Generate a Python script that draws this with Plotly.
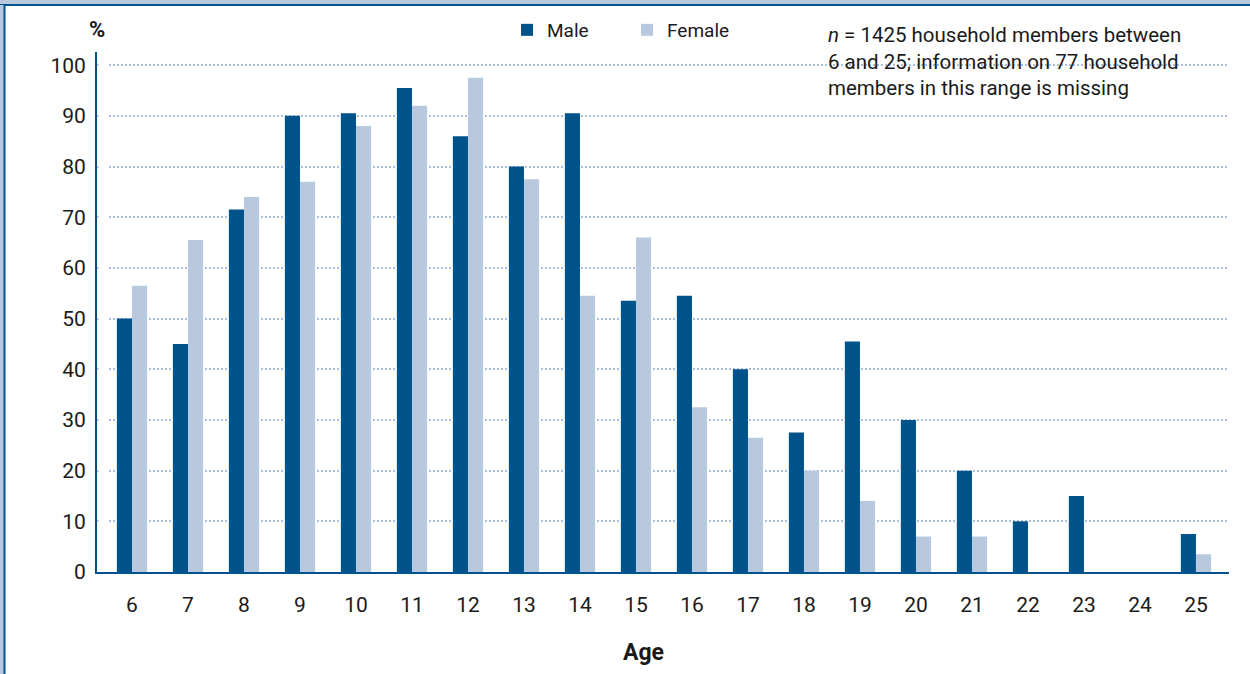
import plotly.graph_objects as go

ages = ["6", "7", "8", "9", "10", "11", "12", "13", "14", "15", "16", "17", "18", "19", "20", "21", "22", "23", "24", "25"]
male = [50, 45, 71.5, 90, 90.5, 95.5, 86, 80, 90.5, 53.5, 54.5, 40, 27.5, 45.5, 30, 20, 10, 15, 0, 7.5]
female = [56.5, 65.5, 74, 77, 88, 92, 97.5, 77.5, 54.5, 66, 32.5, 26.5, 20, 14, 7, 7, 0, 0, 0, 3.5]
y_ticks = [0, 10, 20, 30, 40, 50, 60, 70, 80, 90, 100]

DARK = "#00528a"
LIGHT = "#b8c9df"
GRID = "#a9bfdb"
FONT = "Roboto, Liberation Sans, sans-serif"

W, H = 1250, 674
L, R, T, B = 97, 21, 52, 102
PW, PH = W - L - R, H - T - B

def px(x):
    return (x - L) / PW

def py(y):
    return (H - B - y) / PH

fig = go.Figure()
fig.add_trace(go.Bar(x=ages, y=male, name="Male", marker=dict(color=DARK, line_width=0)))
fig.add_trace(go.Bar(x=ages, y=female, name="Female", marker=dict(color=LIGHT, line_width=0)))

fig.update_layout(
    width=W, height=H,
    margin=dict(l=L, r=R, t=T, b=B, autoexpand=False),
    paper_bgcolor="white", plot_bgcolor="white",
    barmode="group", bargap=0.46, bargroupgap=0,
    font=dict(family=FONT, color="#1a1a1a", size=19),
    showlegend=True,
    legend=dict(orientation="h", x=px(507), y=py(11), xanchor="left", yanchor="top",
                xref="paper", yref="paper",
                font=dict(size=19, family=FONT), entrywidth=75, entrywidthmode="pixels",
                itemwidth=30, bgcolor="rgba(0,0,0,0)", traceorder="normal"),
    xaxis=dict(type="category", range=[-0.625, 19.59], showgrid=False, showline=True,
               linecolor=DARK, linewidth=2, ticks="", tickfont=dict(size=21, family=FONT),
               ticklabelstandoff=13, title=dict(text="")),
    yaxis=dict(range=[0, 102.6], tickvals=y_ticks, showgrid=True, gridcolor=GRID,
               griddash="2px,2px", gridwidth=2, showline=True, linecolor=DARK, linewidth=2,
               ticks="", tickfont=dict(size=21, family=FONT), ticklabelstandoff=5,
               zeroline=False),
    shapes=[
        dict(type="rect", xref="paper", yref="paper", x0=px(98.5), x1=px(107), y0=py(569), y1=py(60),
             fillcolor="white", line_width=0, layer="above"),
        dict(type="rect", xref="paper", yref="paper", x0=px(0), x1=px(W), y0=py(5), y1=py(0),
             fillcolor=LIGHT, line_width=0, layer="above"),
        dict(type="line", xref="paper", yref="paper", x0=px(0), x1=px(W), y0=py(5), y1=py(5),
             line=dict(color=DARK, width=2), layer="above"),
        dict(type="rect", xref="paper", yref="paper", x0=px(0), x1=px(4), y0=py(H), y1=py(5),
             fillcolor=LIGHT, line_width=0, layer="above"),
        dict(type="line", xref="paper", yref="paper", x0=px(4.5), x1=px(4.5), y0=py(H), y1=py(5),
             line=dict(color=DARK, width=2), layer="above"),
    ],
    annotations=[
        dict(text="<b>%</b>", xref="paper", yref="paper", x=px(97), y=py(30),
             xanchor="center", yanchor="middle", showarrow=False, font=dict(size=22, family=FONT)),
        dict(text="<b>Age</b>", xref="paper", yref="paper", x=px(643), y=py(652),
             xanchor="center", yanchor="middle", showarrow=False, font=dict(size=23, family=FONT)),
        dict(text="<i>n</i> = 1425 household members between<br>6 and 25; information on 77 household<br>members in this range is missing",
             xref="paper", yref="paper", x=px(826), y=py(21), xanchor="left", yanchor="top",
             align="left", showarrow=False, font=dict(size=20.5, family=FONT)),
    ],
)

fig.write_html("out.html", config={"displayModeBar": False},
               post_script="document.body.style.margin='0';")
